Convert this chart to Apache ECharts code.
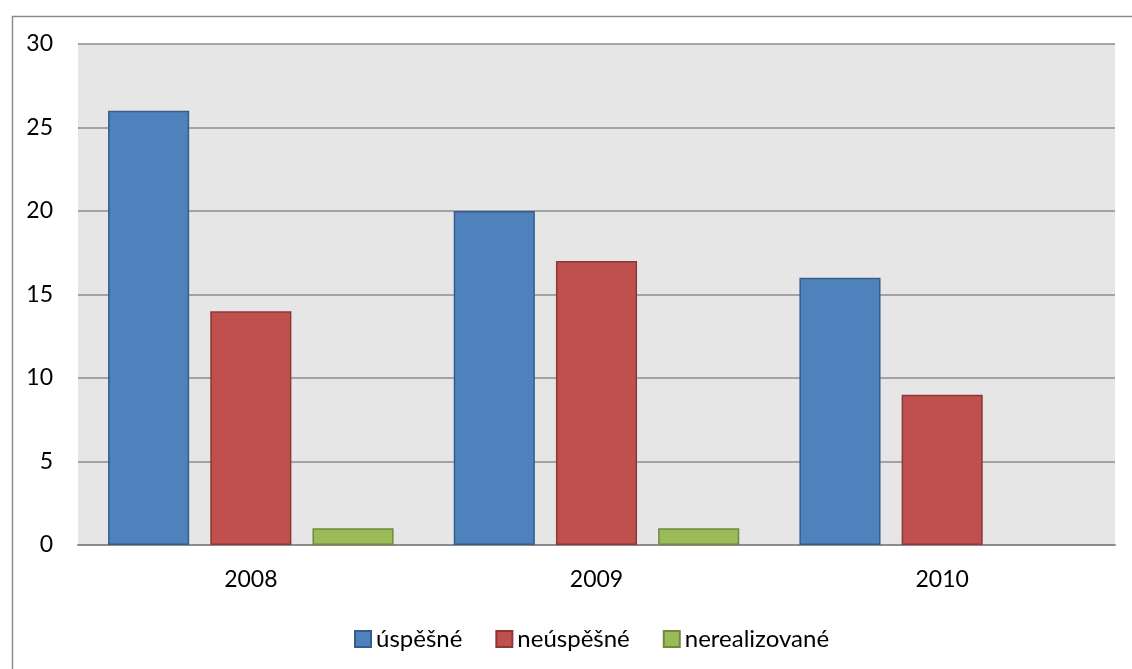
<!DOCTYPE html>
<html><head><meta charset="utf-8">
<script src="https://cdn.jsdelivr.net/npm/echarts@6/dist/echarts.min.js"></script>
<style>html,body{margin:0;padding:0;background:#fff}#c{width:1132px;height:669px}</style>
</head><body><div id="c"></div>
<script>
const categories = ['2008', '2009', '2010'];
const uspesne = [26, 20, 16];
const neuspesne = [14, 17, 9];
const nerealizovane = [1, 1, null];
const seriesNames = ['úspěšné', 'neúspěšné', 'nerealizované'];

const chart = echarts.init(document.getElementById('c'));
const font = 'Lato, "Noto Sans", sans-serif';
function bar(name, data, color, border) {
  return {
    name, type: 'bar', data,
    barGap: '26%', barCategoryGap: '17.4%',
    itemStyle: { color, borderColor: border, borderWidth: 1.5 },
    emphasis: { disabled: true }
  };
}
chart.setOption({
  animation: false,
  backgroundColor: '#fff',
  textStyle: { fontFamily: font },
  graphic: [{
    type: 'rect', left: 10, top: 14, z: -10,
    shape: { width: 1140, height: 680 },
    style: { fill: 'none', stroke: '#8c8c8c', lineWidth: 1.5 }
  }],
  grid: { left: 78, top: 44, right: 17, bottom: 124, show: true, backgroundColor: '#e6e6e6', borderWidth: 0 },
  legend: {
    top: 622, left: 349, itemWidth: 16, itemHeight: 16, itemGap: 33,
    icon: 'rect',
    textStyle: { fontSize: 24, color: '#000', fontFamily: font, padding: [0, 0, 0, 0] },
    data: seriesNames
  },
  xAxis: {
    type: 'category', data: categories,
    axisLine: { lineStyle: { color: '#8c8c8c', width: 2 } },
    axisTick: { show: false },
    axisLabel: { fontSize: 23, color: '#000', margin: 23, fontFamily: font }
  },
  yAxis: {
    type: 'value', min: 0, max: 30, interval: 5,
    axisLine: { show: false }, axisTick: { show: false },
    splitLine: { lineStyle: { color: '#8c8c8c', width: 1.5 } },
    axisLabel: { fontSize: 23, color: '#000', margin: 25, fontFamily: font }
  },
  series: [
    bar(seriesNames[0], uspesne, '#4f81bd', '#385d8a'),
    bar(seriesNames[1], neuspesne, '#c0504d', '#8c3836'),
    bar(seriesNames[2], nerealizovane, '#9bbb59', '#71893f')
  ]
});
</script></body></html>
